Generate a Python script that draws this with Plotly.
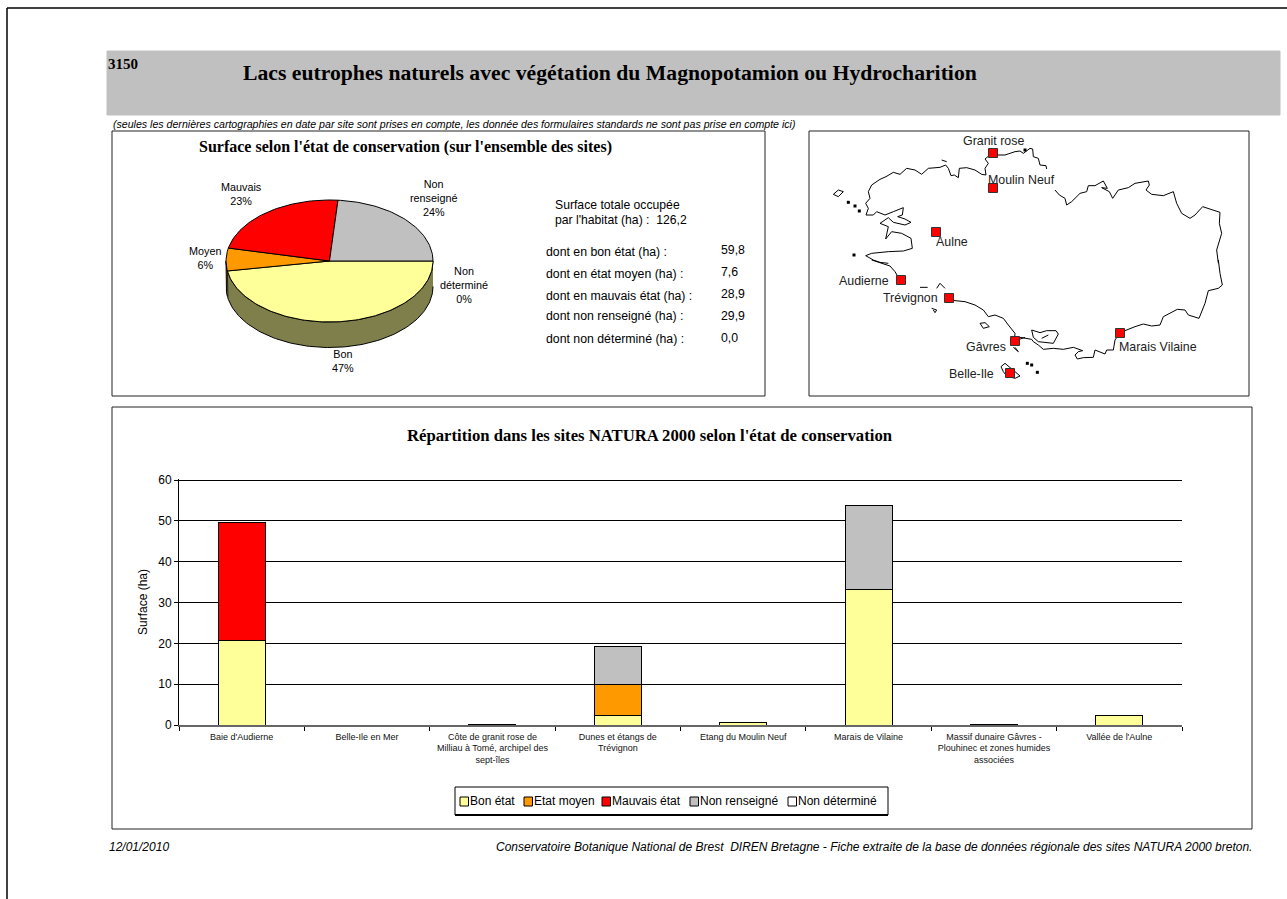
import numpy as np
import plotly.graph_objects as go

W, H = 1287, 899

# ---------- data ----------
sites = ["Baie d'Audierne", "Belle-Ile en Mer",
         "Côte de granit rose de<br>Milliau à Tomé, archipel des<br>sept-îles",
         "Dunes et étangs de<br>Trévignon", "Etang du Moulin Neuf", "Marais de Vilaine",
         "Massif dunaire Gâvres -<br>Plouhinec et zones humides<br>associées", "Vallée de l'Aulne"]
bon = [20.8, 0, 0.2, 2.3, 0.5, 33.2, 0.2, 2.4]
moyen = [0, 0, 0, 7.6, 0, 0, 0, 0]
mauvais = [28.9, 0, 0, 0, 0, 0, 0, 0]
non_renseigne = [0, 0, 0, 9.4, 0, 20.5, 0, 0]
non_determine = [0, 0, 0, 0, 0, 0, 0, 0]
series_names = ["Bon état", "Etat moyen", "Mauvais état", "Non renseigné", "Non déterminé"]

pie_labels = ["Bon", "Moyen", "Mauvais", "Non<br>renseigné", "Non<br>déterminé"]
pie_values = [59.8, 7.6, 28.9, 29.9, 0.0]
summary_labels = ["dont en bon état (ha) :", "dont en état moyen (ha) :", "dont en mauvais état (ha) :",
                  "dont non renseigné (ha) :", "dont non déterminé (ha) :"]
total_value = "126,2"

map_sites = ["Granit rose", "Moulin Neuf", "Aulne", "Audierne", "Trévignon", "Gâvres", "Belle-Ile", "Marais Vilaine"]
map_x = [993, 993, 936, 901, 949, 1015, 1010, 1120]
map_y = [153, 188, 232, 280, 298, 341, 373, 333]

nw_x = [503, 490, 480, 490, 480, 483, 470, 450, 425, 403, 400, 388, 378, 370, 362, 345, 310, 290, 270, 245, 225, 205, 183, 165, 140, 130, 135, 122, 130, 123, 145, 155, 180, 205, 235, 232, 218, 240, 258, 240, 205, 190, 165, 190, 182, 200, 230, 258, 262, 235, 190, 140, 122, 145, 165, 190]
nw_y = [53, 65, 72, 85, 100, 120, 118, 105, 98, 100, 128, 120, 122, 100, 90, 97, 100, 118, 105, 100, 118, 112, 125, 133, 150, 170, 190, 205, 220, 240, 240, 230, 240, 230, 218, 240, 245, 252, 262, 270, 262, 248, 265, 275, 312, 290, 295, 310, 340, 348, 350, 355, 362, 375, 382, 385]
ne1_x = [517, 540, 570, 585, 595, 615, 623, 625, 640, 645, 663, 665]
ne1_y = [60, 60, 50, 48, 55, 40, 42, 65, 70, 90, 92, 102]
ne2_x = [105, 118, 135, 140, 155, 180, 200, 205, 225, 250, 262, 245, 268, 278, 295, 325, 345, 385, 388, 378, 395, 430, 460, 470, 485, 510, 525, 548, 600, 598, 605, 598, 590, 595]
ne2_y = [165, 180, 190, 210, 200, 175, 170, 152, 152, 138, 160, 158, 170, 190, 165, 158, 145, 138, 150, 165, 178, 182, 170, 205, 235, 250, 240, 215, 232, 265, 295, 320, 345, 385]
se_x = [595, 600, 607, 595, 565, 555, 537, 505, 495, 472, 430, 420, 395, 370, 345, 325, 300, 285, 280, 260, 255, 225, 220, 190, 172, 165, 175, 188, 160, 130, 100, 70, 55, 40, 35, 0]
se_y = [0, 40, 75, 85, 92, 130, 175, 165, 150, 148, 170, 195, 198, 192, 200, 208, 218, 240, 270, 270, 282, 270, 292, 293, 297, 285, 275, 272, 262, 268, 265, 268, 255, 245, 238, 232]
morbihan_x = [35, 40, 55, 100, 115, 108, 80, 60, 35, None, 65, 85]
morbihan_y = [210, 232, 245, 250, 222, 212, 212, 218, 210, None, 235, 225]
sw_x = [140, 170, 195, 210, 225, None, 372, 390, 420, 450, 475, 490, 510, 535, 550, 570, 568, 600]
sw_y = [0, 10, 18, 35, 60, None, 113, 122, 125, 135, 150, 170, 165, 175, 195, 220, 243, 232]
belle_ile_x = [528, 540, 570, 585, 570, 545, 535, 528]
belle_ile_y = [320, 310, 335, 348, 355, 348, 335, 320]
groix_x = [465, 480, 493, 475, 465, None, 565, 580, 570, None, 285, 308, None, 335, 345, 360, None, 320, 335, 330, 325]
groix_y = [190, 188, 200, 205, 190, None, 262, 275, 262, None, 82, 82, None, 85, 70, 85, None, 145, 150, 158, 150]
ouessant_x = [25, 40, 55, 40, 25, None, 350, 365]
ouessant_y = [178, 165, 170, 185, 178, None, 75, 80]
nw_islets_x = [70, 90, 103, 87, 600]
nw_islets_y = [202, 213, 228, 360, 45]
se_islets_x = [22, 35, 52]
se_islets_y = [310, 315, 337]

# ---------- helpers ----------
def px(x): return x / W
def py(y): return 1 - y / H
def crop(xs, ys, left, top):
    return ([None if v is None else left + v / 3 for v in xs],
            [None if v is None else top + v / 3 for v in ys])

SANS = "Liberation Sans"
SERIF = "Liberation Serif"
annotations = []
def text(x, y, s, size=11, family=SANS, color="black", anchor="left", bold=False, italic=False):
    if bold: s = f"<b>{s}</b>"
    if italic: s = f"<i>{s}</i>"
    dx = {"left": -2, "right": 2, "center": 0}[anchor]
    annotations.append(dict(x=px(x + dx), y=py(y), xref="paper", yref="paper", text=s, showarrow=False,
                            xanchor=anchor, yanchor="middle", align="center" if anchor == "center" else anchor,
                            font=dict(size=size, family=family, color=color)))

fig = go.Figure()

# ---------- stacked bars ----------
colors = ["#FFFF99", "#FF9900", "#FF0000", "#C0C0C0", "#FFFFFF"]
for name, vals, col in zip(series_names, [bon, moyen, mauvais, non_renseigne, non_determine], colors):
    fig.add_bar(x=sites, y=vals, name=name, marker=dict(color=col, line=dict(color="black", width=1)),
                xaxis="x", yaxis="y", hoverinfo="skip", showlegend=False)

# ---------- 3D-looking pie drawn from values ----------
CX, CY, RX, RY, DEPTH = 329.5, 261, 103.5, 61, 25.5
total = sum(pie_values)
edges = np.concatenate([[0], np.cumsum(pie_values)]) / total * 2 * np.pi
def arc(a0, a1):
    t = np.linspace(a0, a1, max(2, int((a1 - a0) * 40)))
    return CX + RX * np.cos(t), CY + RY * np.sin(t)
side_cols = ["#7F7F4C", "#7F4C00"]
for i, col in enumerate(side_cols):
    a0, a1 = edges[i], min(edges[i + 1], np.pi)
    ax, ay = arc(a0, a1)
    fig.add_scatter(x=list(ax) + list(ax[::-1]), y=list(ay) + list(ay[::-1] + DEPTH), mode="lines", fill="toself",
                    fillcolor=col, line=dict(color="black", width=1), xaxis="x2", yaxis="y2",
                    showlegend=False, hoverinfo="skip")
for i, col in enumerate(colors[:4]):
    ax, ay = arc(edges[i], edges[i + 1])
    fig.add_scatter(x=[CX] + list(ax) + [CX], y=[CY] + list(ay) + [CY], mode="lines", fill="toself",
                    fillcolor=col, line=dict(color="black", width=1), xaxis="x2", yaxis="y2",
                    showlegend=False, hoverinfo="skip")

# ---------- map ----------
pieces = [crop(nw_x, nw_y, 825, 135), crop(ne1_x, ne1_y, 825, 135), crop(ne2_x, ne2_y, 1020, 135),
          crop(se_x, se_y, 1020, 260), crop(morbihan_x, morbihan_y, 1020, 260), crop(sw_x, sw_y, 825, 260),
          crop(belle_ile_x, belle_ile_y, 825, 260), crop(groix_x, groix_y, 825, 260), crop(ouessant_x, ouessant_y, 825, 135)]
for xs, ys in pieces:
    fig.add_scatter(x=xs, y=ys, mode="lines", line=dict(color="black", width=1), xaxis="x3", yaxis="y3",
                    showlegend=False, hoverinfo="skip")
for xs, ys in [crop(nw_islets_x, nw_islets_y, 825, 135), crop(se_islets_x, se_islets_y, 1020, 260)]:
    fig.add_scatter(x=xs, y=ys, mode="markers", marker=dict(color="black", size=3, symbol="square"),
                    xaxis="x3", yaxis="y3", showlegend=False, hoverinfo="skip")
fig.add_scatter(x=map_x, y=map_y, mode="markers", marker=dict(color="#FF0000", size=9, symbol="square", line=dict(color="#333", width=1)),
                xaxis="x3", yaxis="y3", showlegend=False, hoverinfo="skip")

# ---------- text ----------
text(108, 64, "3150", 15, SERIF, bold=True)
text(243, 73, "Lacs eutrophes naturels avec végétation du Magnopotamion ou Hydrocharition", 21.7, SERIF, bold=True)
text(113, 124, "(seules les dernières cartographies en date par site sont prises en compte, les donnée des formulaires standards ne sont pas prise en compte ici)", 10.6, SANS, italic=True)
text(199, 147, "Surface selon l'état de conservation (sur l'ensemble des sites)", 16, SERIF, bold=True)
text(650, 435, "Répartition dans les sites NATURA 2000 selon l'état de conservation", 16.7, SERIF, anchor="center", bold=True)
text(109, 847, "12/01/2010", 12, SANS, italic=True)
text(1252, 847, "Conservatoire Botanique National de Brest  DIREN Bretagne - Fiche extraite de la base de données régionale des sites NATURA 2000 breton.", 12, SANS, anchor="right", italic=True)

pcts = [f"{round(v / total * 100)}%" for v in pie_values]
for lab, pct, (x, y) in zip(pie_labels, pcts, [(343, 361), (205, 258), (241, 194), (433, 198), (464, 285)]):
    text(x, y, f"{lab}<br>{pct}", 10.8, SANS, anchor="center")
text(555, 205, "Surface totale occupée", 12.2)
text(555, 220, f"par l'habitat (ha) :  {total_value}", 12.2)
for lab, v, y, vy in zip(summary_labels, pie_values, [252, 274, 296, 316, 339], [250, 272, 294, 316, 338]):
    text(546, y, lab, 12.3)
    text(721, vy, f"{v:.1f}".replace(".", ","), 12.3)

label_pos = [(963, 141, "left"), (988, 180, "left"), (936, 242, "left"), (889, 281, "right"),
             (938, 298, "right"), (1006, 347, "right"), (994, 374, "right"), (1119, 347, "left")]
for name, (x, y, a) in zip(map_sites, label_pos):
    text(x, y, name, 12.4, SANS, color="#222", anchor=a)

# ---------- panels ----------
def rect(x0, y0, x1, y1, fill=None, line="#222", width=1, layer="below"):
    return dict(type="rect", xref="paper", yref="paper", x0=px(x0), x1=px(x1), y0=py(y0), y1=py(y1),
                fillcolor=fill or "rgba(0,0,0,0)", line=dict(color=line, width=width), layer=layer)
def hline(x0, y0, x1, y1, width=1.5):
    return dict(type="line", xref="paper", yref="paper", x0=px(x0), x1=px(x1), y0=py(y0), y1=py(y1),
                line=dict(color="black", width=width), layer="below")
shapes = [
    hline(7, 8, W, 8), hline(7, 8, 7, H),
    rect(107, 51, 1280, 115, fill="#C0C0C0", line="#C0C0C0"),
    rect(112, 131, 765, 396), rect(809, 131, 1249, 396), rect(112, 407, 1252, 829),
    rect(455, 787, 888, 815, fill="white", line="black"), hline(455, 815, 888, 815, 2),
]
for x_sq, col, name in zip([460, 524, 602, 690, 788], colors, series_names):
    shapes.append(rect(x_sq, 797, x_sq + 8.5, 806, fill=col, line="black"))
    text(x_sq + 10, 800.5, name, 12)

fig.update_layout(
    width=W, height=H, autosize=False, margin=dict(l=0, r=0, t=0, b=0),
    paper_bgcolor="white", plot_bgcolor="rgba(0,0,0,0)", barmode="stack", bargap=0.625,
    font=dict(family=SANS, color="black"), shapes=shapes, annotations=annotations, showlegend=False,
    xaxis=dict(domain=[px(179), px(1182)], anchor="y", type="category", tickson="boundaries", ticks="outside", ticklen=4,
               tickcolor="black", tickfont=dict(size=9, family=SANS, color="#111"), showline=True, linecolor="#666", linewidth=1.5,
               showgrid=False, tickangle=0, automargin=False, ticklabelstandoff=2),
    yaxis=dict(domain=[py(725), py(479)], anchor="x", range=[0, 60.25], tickvals=[0, 10, 20, 30, 40, 50, 60], ticks="outside", ticklen=4,
               tickcolor="black", tickfont=dict(size=12, family=SANS), showline=True, linecolor="black", linewidth=1,
               showgrid=True, gridcolor="black", gridwidth=1, zeroline=False, automargin=False,
               title=dict(text="Surface (ha)", font=dict(size=12, family=SANS), standoff=8)),
    xaxis2=dict(domain=[px(112), px(765)], range=[112, 765], anchor="y2", visible=False),
    yaxis2=dict(domain=[py(396), py(131)], range=[396, 131], anchor="x2", visible=False),
    xaxis3=dict(domain=[px(809), px(1249)], range=[809, 1249], anchor="y3", visible=False),
    yaxis3=dict(domain=[py(396), py(131)], range=[396, 131], anchor="x3", visible=False),
)

fig.write_html("out.html", config=dict(displayModeBar=False),
               post_script="document.body.style.margin='0';document.documentElement.style.overflow='hidden';")
